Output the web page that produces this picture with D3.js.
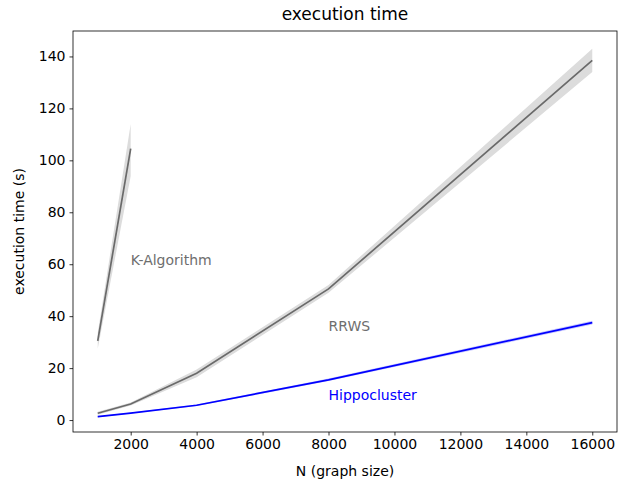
<!DOCTYPE html>
<html>
<head>
<meta charset="utf-8">
<script src="https://cdn.jsdelivr.net/npm/d3@7"></script>
<style>
  body { margin: 0; background: #fff; }
  text { font-family: "DejaVu Sans", sans-serif; }
</style>
</head>
<body>
<svg width="642" height="482"></svg>
<script>
// graph sizes per series
var kN = [1000, 2000];
var kMean = [30.5, 104.5];
var kLo = [27.5, 94];
var kHi = [33.5, 114];

var rrN = [1000, 2000, 4000, 8000, 16000];
var rrMean = [2.6, 6.2, 18, 50.5, 138.5];
var rrLo = [2.0, 5.6, 16.5, 49, 134];
var rrHi = [3.2, 6.8, 19.5, 52, 143];

var hcN = [1000, 2000, 4000, 8000, 16000];
var hcMean = [1.3, 2.7, 5.7, 15.5, 37.5];
var hcLo = [1.1, 2.5, 5.4, 15.0, 36.8];
var hcHi = [1.5, 2.9, 6.0, 16.0, 38.2];

var xTicks = [2000, 4000, 6000, 8000, 10000, 12000, 14000, 16000];
var yTicks = [0, 20, 40, 60, 80, 100, 120, 140];

var config = { left: 73, right: 617, top: 31, bottom: 432 };

var svg = d3.select("svg");

var x = d3.scaleLinear().domain([250, 16750]).range([config.left, config.right]);
var y = d3.scaleLinear().domain([-4.6, 149.8]).range([config.bottom, config.top]);

function series(ns, mean, lo, hi) {
  return ns.map(function(n, i) { return {n: n, m: mean[i], lo: lo[i], hi: hi[i]}; });
}

var area = d3.area()
  .x(function(d) { return x(d.n); })
  .y0(function(d) { return y(d.lo); })
  .y1(function(d) { return y(d.hi); });

var line = d3.line()
  .x(function(d) { return x(d.n); })
  .y(function(d) { return y(d.m); });

var plot = svg.append("g");

function draw(data, col, bandCol) {
  plot.append("path").attr("d", area(data))
    .attr("fill", bandCol).attr("stroke", "none");
  plot.append("path").attr("d", line(data))
    .attr("fill", "none").attr("stroke", col).attr("stroke-width", 1.7);
}

draw(series(kN, kMean, kLo, kHi), "#6a6a6a", "#dcdcdc");
draw(series(rrN, rrMean, rrLo, rrHi), "#6a6a6a", "#dcdcdc");
draw(series(hcN, hcMean, hcLo, hcHi), "#0000ff", "#c8c8ff");

// labels
plot.append("text").attr("x", x(2000)).attr("y", y(61.5)).attr("dy", "0.35em")
  .attr("font-size", 14).attr("fill", "#6e6e6e").text("K-Algorithm");
plot.append("text").attr("x", x(8000)).attr("y", y(36.2)).attr("dy", "0.35em")
  .attr("font-size", 14).attr("fill", "#6e6e6e").text("RRWS");
plot.append("text").attr("x", x(8000)).attr("y", y(9.8)).attr("dy", "0.35em")
  .attr("font-size", 14).attr("fill", "#0000ff").text("Hippocluster");

// axes
var xAxis = svg.append("g").attr("transform", "translate(0," + config.bottom + ")")
  .call(d3.axisBottom(x).tickValues(xTicks).tickSize(3.5).tickPadding(4).tickFormat(d3.format("d")));
var yAxis = svg.append("g").attr("transform", "translate(" + config.left + ",0)")
  .call(d3.axisLeft(y).tickValues(yTicks).tickSize(3.5).tickPadding(4));

[xAxis, yAxis].forEach(function(a) {
  a.select(".domain").remove();
  a.selectAll("text").attr("font-size", 14).attr("fill", "#000").style("font-family", "DejaVu Sans");
  a.selectAll("line").attr("stroke", "#000").attr("stroke-width", 0.8);
});

svg.append("rect")
  .attr("x", config.left).attr("y", config.top)
  .attr("width", config.right - config.left).attr("height", config.bottom - config.top)
  .attr("fill", "none").attr("stroke", "#000").attr("stroke-width", 0.8);

svg.append("text").attr("x", (config.left + config.right) / 2).attr("y", 20)
  .attr("text-anchor", "middle").attr("font-size", 17).text("execution time");
svg.append("text").attr("x", (config.left + config.right) / 2).attr("y", 476)
  .attr("text-anchor", "middle").attr("font-size", 14).text("N (graph size)");
svg.append("text").attr("transform", "translate(24," + ((config.top + config.bottom) / 2) + ") rotate(-90)")
  .attr("text-anchor", "middle").attr("font-size", 14).text("execution time (s)");
</script>
</body>
</html>
